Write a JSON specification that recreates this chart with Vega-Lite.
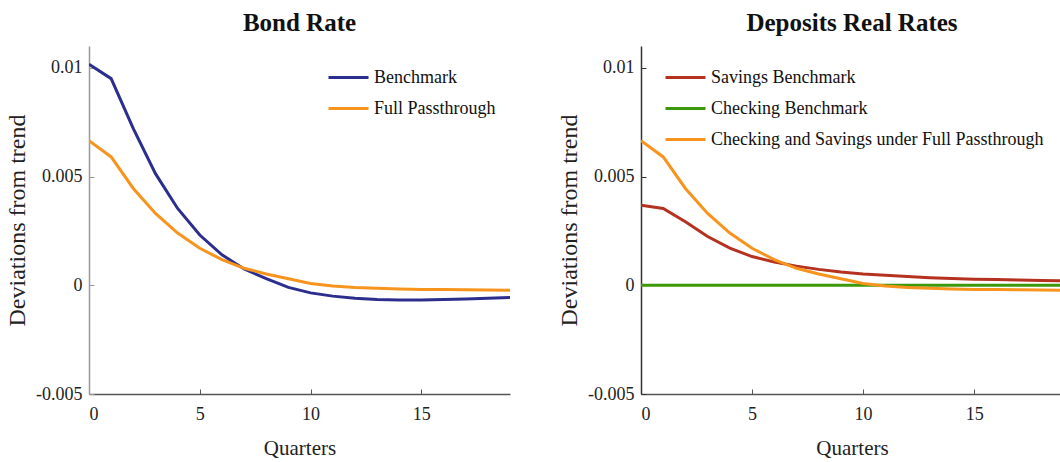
{
  "$schema": "https://vega.github.io/schema/vega-lite/v6.json",
  "background": "white",
  "padding": {"left": 5, "top": 11, "right": 0, "bottom": 0},
  "bounds": "flush",
  "spacing": 131,
  "config": {
    "view": {"stroke": null},
    "font": "Liberation Serif",
    "title": {"font": "Liberation Serif", "fontSize": 25, "fontWeight": "bold", "color": "#111", "offset": 10},
    "axis": {
      "labelFont": "Liberation Serif", "labelFontSize": 18, "labelColor": "#222",
      "titleFont": "Liberation Serif", "titleFontWeight": "normal", "titleColor": "#222",
      "grid": false, "domainColor": "#555", "tickColor": "#555", "domainWidth": 1.5
    },
    "legend": {
      "labelFont": "Liberation Serif", "labelFontSize": 18, "labelColor": "#111", "labelLimit": 0,
      "symbolType": "stroke", "symbolSize": 1600, "symbolStrokeWidth": 3,
      "labelOffset": 4, "rowPadding": -17, "title": null, "padding": 0
    }
  },
  "datasets": {
    "bond": [
      {"q": 0, "series": "Benchmark", "v": 0.01016},
      {"q": 1, "series": "Benchmark", "v": 0.0095},
      {"q": 2, "series": "Benchmark", "v": 0.0072},
      {"q": 3, "series": "Benchmark", "v": 0.00513},
      {"q": 4, "series": "Benchmark", "v": 0.00353},
      {"q": 5, "series": "Benchmark", "v": 0.00231},
      {"q": 6, "series": "Benchmark", "v": 0.0014},
      {"q": 7, "series": "Benchmark", "v": 0.00075},
      {"q": 8, "series": "Benchmark", "v": 0.0003},
      {"q": 9, "series": "Benchmark", "v": -0.0001},
      {"q": 10, "series": "Benchmark", "v": -0.00035},
      {"q": 11, "series": "Benchmark", "v": -0.0005},
      {"q": 12, "series": "Benchmark", "v": -0.0006},
      {"q": 13, "series": "Benchmark", "v": -0.00066},
      {"q": 14, "series": "Benchmark", "v": -0.00068},
      {"q": 15, "series": "Benchmark", "v": -0.00068},
      {"q": 16, "series": "Benchmark", "v": -0.00066},
      {"q": 17, "series": "Benchmark", "v": -0.00063},
      {"q": 18, "series": "Benchmark", "v": -0.0006},
      {"q": 19, "series": "Benchmark", "v": -0.00056},
      {"q": 0, "series": "Full Passthrough", "v": 0.00665},
      {"q": 1, "series": "Full Passthrough", "v": 0.0059},
      {"q": 2, "series": "Full Passthrough", "v": 0.00445},
      {"q": 3, "series": "Full Passthrough", "v": 0.0033},
      {"q": 4, "series": "Full Passthrough", "v": 0.0024},
      {"q": 5, "series": "Full Passthrough", "v": 0.0017},
      {"q": 6, "series": "Full Passthrough", "v": 0.00118},
      {"q": 7, "series": "Full Passthrough", "v": 0.00078},
      {"q": 8, "series": "Full Passthrough", "v": 0.00052},
      {"q": 9, "series": "Full Passthrough", "v": 0.0003},
      {"q": 10, "series": "Full Passthrough", "v": 0.00008},
      {"q": 11, "series": "Full Passthrough", "v": -0.00003},
      {"q": 12, "series": "Full Passthrough", "v": -0.0001},
      {"q": 13, "series": "Full Passthrough", "v": -0.00014},
      {"q": 14, "series": "Full Passthrough", "v": -0.00017},
      {"q": 15, "series": "Full Passthrough", "v": -0.00019},
      {"q": 16, "series": "Full Passthrough", "v": -0.0002},
      {"q": 17, "series": "Full Passthrough", "v": -0.00021},
      {"q": 18, "series": "Full Passthrough", "v": -0.00022},
      {"q": 19, "series": "Full Passthrough", "v": -0.00023}
    ],
    "deposits": [
      {"q": 0, "series": "Savings Benchmark", "v": 0.00368},
      {"q": 1, "series": "Savings Benchmark", "v": 0.00353},
      {"q": 2, "series": "Savings Benchmark", "v": 0.00292},
      {"q": 3, "series": "Savings Benchmark", "v": 0.00224},
      {"q": 4, "series": "Savings Benchmark", "v": 0.00171},
      {"q": 5, "series": "Savings Benchmark", "v": 0.00132},
      {"q": 6, "series": "Savings Benchmark", "v": 0.00107},
      {"q": 7, "series": "Savings Benchmark", "v": 0.00088},
      {"q": 8, "series": "Savings Benchmark", "v": 0.00073},
      {"q": 9, "series": "Savings Benchmark", "v": 0.00061},
      {"q": 10, "series": "Savings Benchmark", "v": 0.00052},
      {"q": 11, "series": "Savings Benchmark", "v": 0.00046},
      {"q": 12, "series": "Savings Benchmark", "v": 0.0004},
      {"q": 13, "series": "Savings Benchmark", "v": 0.00035},
      {"q": 14, "series": "Savings Benchmark", "v": 0.00031},
      {"q": 15, "series": "Savings Benchmark", "v": 0.00028},
      {"q": 16, "series": "Savings Benchmark", "v": 0.00026},
      {"q": 17, "series": "Savings Benchmark", "v": 0.00024},
      {"q": 18, "series": "Savings Benchmark", "v": 0.00022},
      {"q": 19, "series": "Savings Benchmark", "v": 0.0002},
      {"q": 0, "series": "Checking Benchmark", "v": 0},
      {"q": 1, "series": "Checking Benchmark", "v": 0},
      {"q": 2, "series": "Checking Benchmark", "v": 0},
      {"q": 3, "series": "Checking Benchmark", "v": 0},
      {"q": 4, "series": "Checking Benchmark", "v": 0},
      {"q": 5, "series": "Checking Benchmark", "v": 0},
      {"q": 6, "series": "Checking Benchmark", "v": 0},
      {"q": 7, "series": "Checking Benchmark", "v": 0},
      {"q": 8, "series": "Checking Benchmark", "v": 0},
      {"q": 9, "series": "Checking Benchmark", "v": 0},
      {"q": 10, "series": "Checking Benchmark", "v": 0},
      {"q": 11, "series": "Checking Benchmark", "v": 0},
      {"q": 12, "series": "Checking Benchmark", "v": 0},
      {"q": 13, "series": "Checking Benchmark", "v": 0},
      {"q": 14, "series": "Checking Benchmark", "v": 0},
      {"q": 15, "series": "Checking Benchmark", "v": 0},
      {"q": 16, "series": "Checking Benchmark", "v": 0},
      {"q": 17, "series": "Checking Benchmark", "v": 0},
      {"q": 18, "series": "Checking Benchmark", "v": 0},
      {"q": 19, "series": "Checking Benchmark", "v": 0},
      {"q": 0, "series": "Checking and Savings under Full Passthrough", "v": 0.00665},
      {"q": 1, "series": "Checking and Savings under Full Passthrough", "v": 0.0059},
      {"q": 2, "series": "Checking and Savings under Full Passthrough", "v": 0.00445},
      {"q": 3, "series": "Checking and Savings under Full Passthrough", "v": 0.0033},
      {"q": 4, "series": "Checking and Savings under Full Passthrough", "v": 0.0024},
      {"q": 5, "series": "Checking and Savings under Full Passthrough", "v": 0.0017},
      {"q": 6, "series": "Checking and Savings under Full Passthrough", "v": 0.00118},
      {"q": 7, "series": "Checking and Savings under Full Passthrough", "v": 0.00078},
      {"q": 8, "series": "Checking and Savings under Full Passthrough", "v": 0.00052},
      {"q": 9, "series": "Checking and Savings under Full Passthrough", "v": 0.0003},
      {"q": 10, "series": "Checking and Savings under Full Passthrough", "v": 0.00008},
      {"q": 11, "series": "Checking and Savings under Full Passthrough", "v": -0.00003},
      {"q": 12, "series": "Checking and Savings under Full Passthrough", "v": -0.0001},
      {"q": 13, "series": "Checking and Savings under Full Passthrough", "v": -0.00014},
      {"q": 14, "series": "Checking and Savings under Full Passthrough", "v": -0.00017},
      {"q": 15, "series": "Checking and Savings under Full Passthrough", "v": -0.00019},
      {"q": 16, "series": "Checking and Savings under Full Passthrough", "v": -0.0002},
      {"q": 17, "series": "Checking and Savings under Full Passthrough", "v": -0.00021},
      {"q": 18, "series": "Checking and Savings under Full Passthrough", "v": -0.00022},
      {"q": 19, "series": "Checking and Savings under Full Passthrough", "v": -0.00023}
    ]
  },
  "resolve": {"scale": {"color": "independent"}, "legend": {"color": "independent"}},
  "hconcat": [
    {
      "title": "Bond Rate",
      "width": 421,
      "height": 348,
      "data": {"name": "bond"},
      "mark": {"type": "line", "strokeWidth": 3, "clip": true},
      "encoding": {
        "x": {"field": "q", "type": "quantitative", "scale": {"domain": [0, 19], "nice": false, "zero": false},
              "axis": {"title": "Quarters", "titleFontSize": 21, "titlePadding": 14, "values": [0, 5, 10, 15], "tickSize": -5, "labelPadding": 16, "labelFontSize": 18}},
        "y": {"field": "v", "type": "quantitative", "scale": {"domain": [-0.005, 0.011], "nice": false},
              "axis": {"title": "Deviations from trend", "titleFontSize": 24, "titlePadding": 6, "values": [-0.005, 0, 0.005, 0.01], "format": "~g", "labelExpr": "replace(datum.label, '−', '-')", "tickSize": -5, "labelPadding": 12, "domainColor": "#999", "tickColor": "#999"}},
        "color": {"field": "series", "type": "nominal",
                  "scale": {"domain": ["Benchmark", "Full Passthrough"], "range": ["#2c2e8e", "#f7941e"]},
                  "legend": {"orient": "none", "legendX": 238, "legendY": 10}}
      }
    },
    {
      "title": "Deposits Real Rates",
      "width": 422,
      "height": 348,
      "data": {"name": "deposits"},
      "mark": {"type": "line", "strokeWidth": 3, "clip": true},
      "encoding": {
        "x": {"field": "q", "type": "quantitative", "scale": {"domain": [0, 19], "nice": false, "zero": false},
              "axis": {"title": "Quarters", "titleFontSize": 21, "titlePadding": 14, "values": [0, 5, 10, 15], "tickSize": -5, "labelPadding": 16, "labelFontSize": 18}},
        "y": {"field": "v", "type": "quantitative", "scale": {"domain": [-0.005, 0.011], "nice": false},
              "axis": {"title": "Deviations from trend", "titleFontSize": 24, "titlePadding": 6, "values": [-0.005, 0, 0.005, 0.01], "format": "~g", "labelExpr": "replace(datum.label, '−', '-')", "tickSize": -5, "labelPadding": 12, "domainColor": "#333", "tickColor": "#333"}},
        "color": {"field": "series", "type": "nominal",
                  "scale": {"domain": ["Savings Benchmark", "Checking Benchmark", "Checking and Savings under Full Passthrough"], "range": ["#b53220", "#3c990c", "#f7941e"]},
                  "legend": {"orient": "none", "legendX": 23, "legendY": 10}}
      }
    }
  ]
}
